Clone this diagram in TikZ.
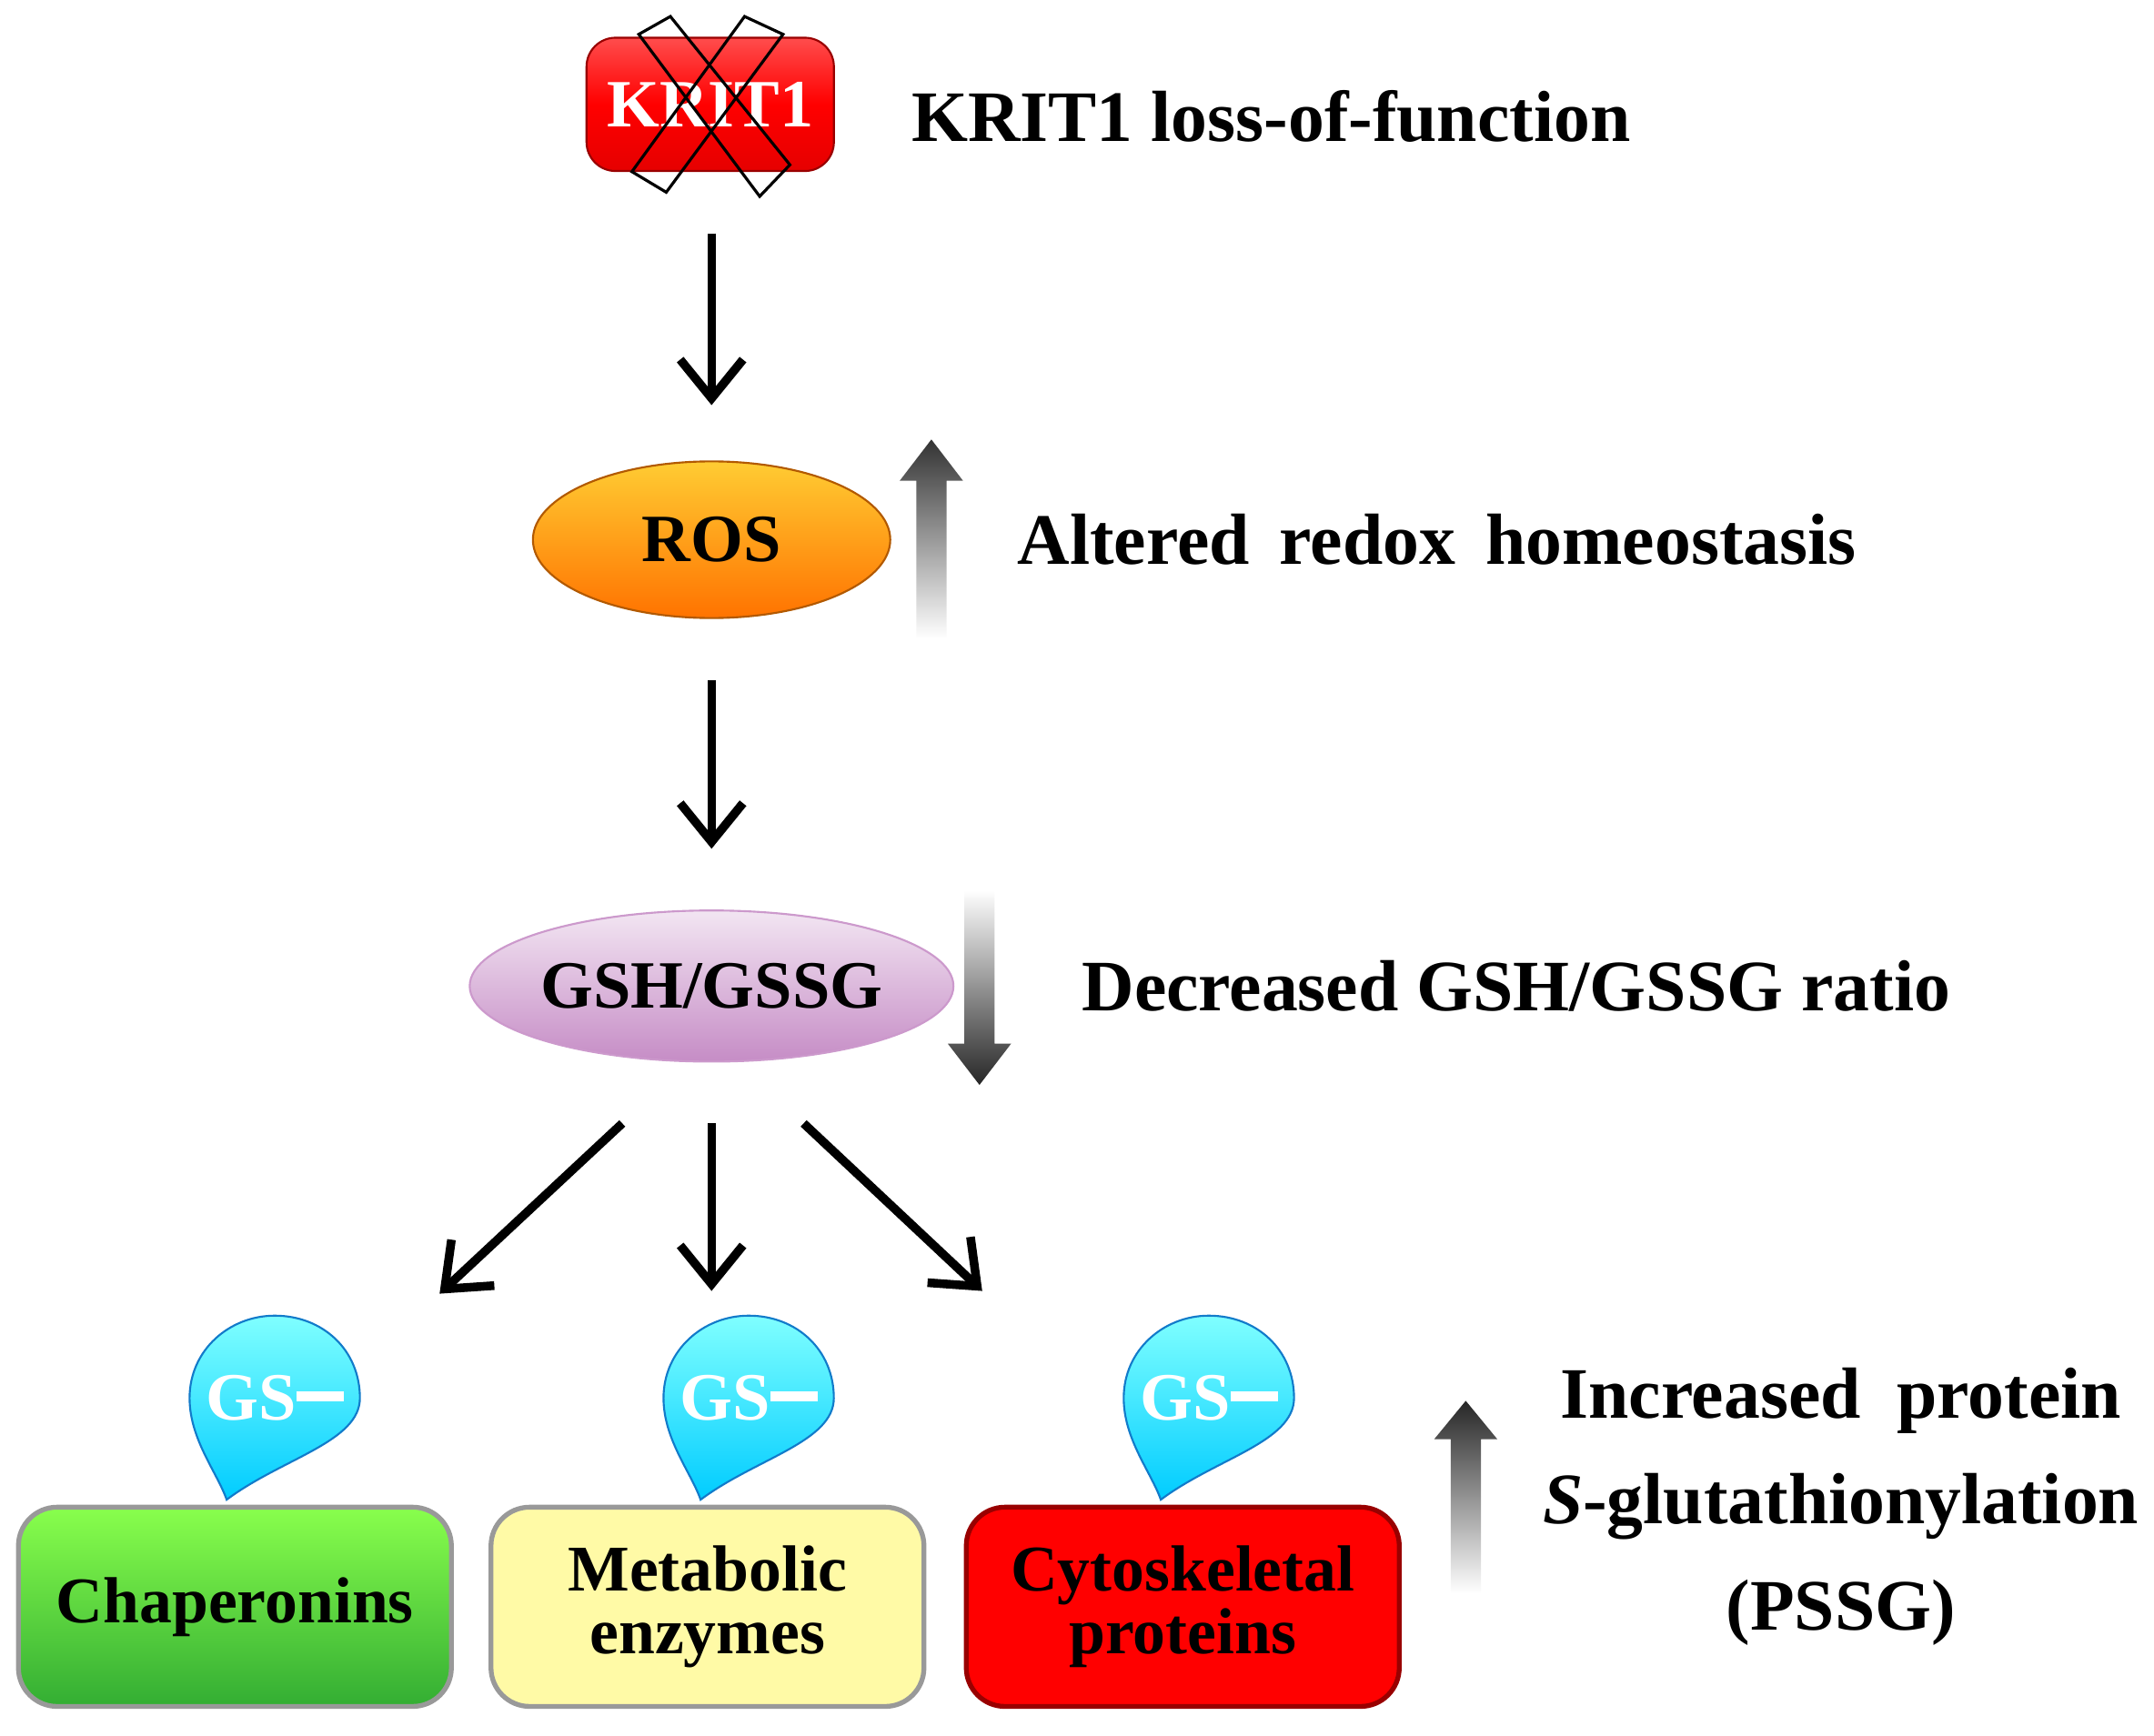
\documentclass[tikz,border=0pt]{standalone}
\usepackage{fontspec}
\setmainfont{Liberation Serif}
\usetikzlibrary{shapes.geometric,arrows.meta}
\begin{document}
\begin{tikzpicture}[x=0.01cm,y=-0.01cm,
  lbl/.style={font=\fontsize{15}{18}\selectfont\bfseries,inner sep=0pt},
  arr/.style={-{Straight Barb[length=8pt,width=13pt]},line width=1.8pt},
  box/.style={rounded corners=8pt,minimum width=3.15cm,minimum height=1.45cm,draw=black!40,line width=1pt,align=center,font=\fontsize{13.5}{15}\selectfont\bfseries},
  gs/.style={font=\fontsize{14}{14}\selectfont\bfseries,text=white}]
\useasboundingbox (0,0) rectangle (1568,1264);
% KRIT1
\node[rounded corners=6pt,minimum width=1.8cm,minimum height=0.97cm,top color=red!70!white,bottom color=red!90!black,middle color=red,draw=red!60!black,text=white,font=\fontsize{14}{16}\selectfont\bfseries] (k) at (517,76) {KRIT1};
\draw[line width=0.6pt] (465,25)--(488,12)--(575,120)--(553,143)--cycle;
\draw[line width=0.6pt] (542,12)--(570,25)--(485,140)--(460,125)--cycle;
\node[lbl,anchor=west] (kt) at (663,85) {KRIT1 loss-of-function};
% ROS
\node[ellipse,inner sep=0pt,minimum width=2.6cm,minimum height=1.14cm,top color=orange!50!yellow!80,bottom color=orange!90!red,draw=orange!70!black,font=\fontsize{14}{16}\selectfont\bfseries] (ros) at (518,393) {ROS};
\coordinate (a1) at (518,170);
\draw[arr] (a1) -- (518,295);
\node[lbl,anchor=west] (rt) at (740,393) {Altered\, redox\, homeostasis};
\shade[top color=black!80,bottom color=white] (667,465)--(667,350)--(655,350)--(678,320)--(701,350)--(689,350)--(689,465)--cycle;
% GSH
\node[ellipse,inner sep=0pt,minimum width=3.36cm,minimum height=1.1cm,top color=violet!10,bottom color=violet!45,draw=violet!40,font=\fontsize{14}{16}\selectfont\bfseries] (gsh) at (518,718) {GSH/GSSG};
\coordinate (a2) at (518,495);
\draw[arr] (a2) -- (518,618);
\shade[top color=white,bottom color=black!85] (702,648)--(702,760)--(690,760)--(713,790)--(736,760)--(724,760)--(724,648)--cycle;
\node[lbl,anchor=west] (gt) at (787,718) {Decreased GSH/GSSG ratio};
% boxes
\node[box,top color=green!55!lime!70,bottom color=green!60!black!80,fill=green!60] (c1) at (171,1170) {Chaperonins};
\node[box,fill=yellow!35] (c2) at (515,1170) {Metabolic\\[-2pt]enzymes};
\node[box,fill=red,draw=red!60!black] (c3) at (861,1170) {Cytoskeletal\\[-2pt]proteins};
\coordinate (s1) at (453,818); \coordinate (s2) at (518,818); \coordinate (s3) at (585,818);
\coordinate (e1) at (320,942); \coordinate (e2) at (518,940); \coordinate (e3) at (715,940);
\draw[arr] (s1)--(e1); \draw[arr] (s2)--(e2); \draw[arr] (s3)--(e3);
% drops
\foreach \n/\cx in {d1/200,d2/545,d3/880}{
  \shade[top color=cyan!50,bottom color=cyan!80!blue,draw=cyan!60!blue]
   (\cx-62,1018) .. controls (\cx-62,983) and (\cx-33,958) .. (\cx,958)
   .. controls (\cx+35,958) and (\cx+62,983) .. (\cx+62,1018)
   .. controls (\cx+62,1050) and (\cx+5,1062) .. (\cx-35,1092)
   .. controls (\cx-42,1072) and (\cx-62,1048) .. cycle;
  \node[gs] (\n) at (\cx,1018) {GS\rule[0.28em]{0.7em}{2pt}};
}
% right
\shade[top color=black!85,bottom color=white] (1056,1160)--(1056,1048)--(1044,1048)--(1067,1020)--(1090,1048)--(1078,1048)--(1078,1160)--cycle;
\node[lbl,align=center] (pt) at (1340,1097) {Increased\ \ protein\\[4pt]\textit{S}-glutathionylation\\[4pt](PSSG)};
\end{tikzpicture}
\end{document}
